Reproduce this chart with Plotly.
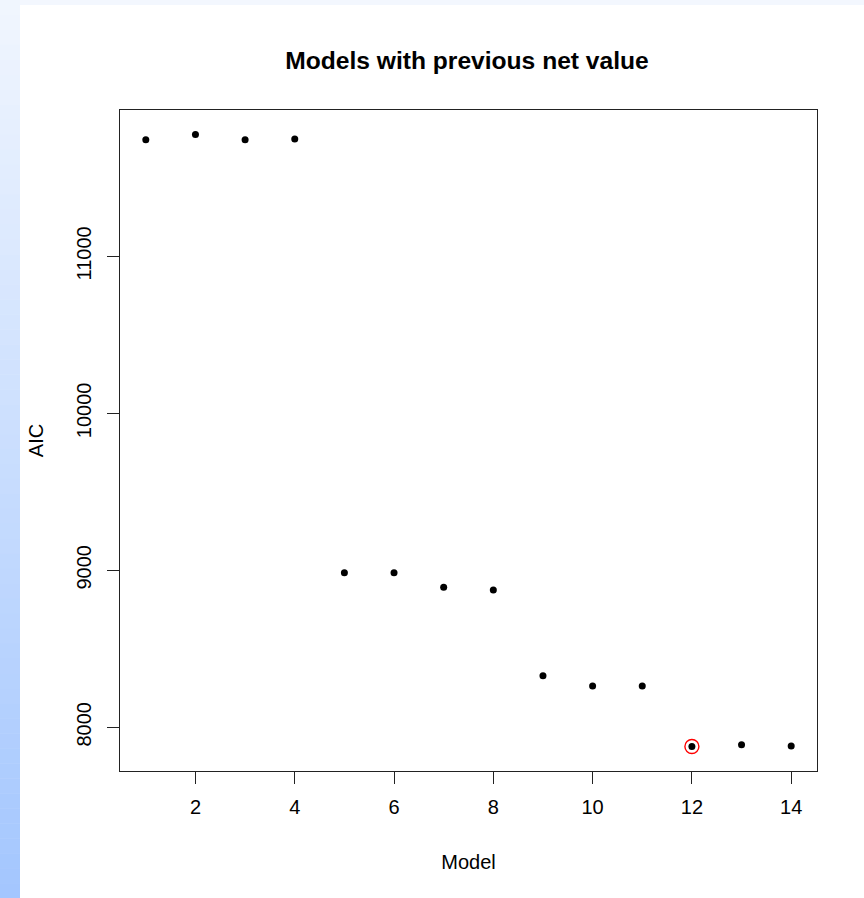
import plotly.graph_objects as go

# ---- data ----
models = [1, 2, 3, 4, 5, 6, 7, 8, 9, 10, 11, 12, 13, 14]
aic = [11742, 11776, 11742, 11748, 8985, 8985, 8893, 8875, 8328, 8263, 8263, 7878, 7890, 7882]
x_ticks = [2, 4, 6, 8, 10, 12, 14]
y_ticks = [8000, 9000, 10000, 11000]
title_text = "Models with previous net value"
x_title = "Model"
y_title = "AIC"

W, H = 864, 898
L, R, T, B = 120, 47, 110, 127
pw, ph = W - L - R, H - T - B

def px2x(px):
    return (px - L) / pw

def py2y(py):
    return (H - B - py) / ph

best = aic.index(min(aic))

# R style 4% axis padding
xr = [min(models) - 0.04 * (max(models) - min(models)), max(models) + 0.04 * (max(models) - min(models))]
yr = [min(aic) - 0.04 * (max(aic) - min(aic)), max(aic) + 0.04 * (max(aic) - min(aic))]

fig = go.Figure()
fig.add_trace(go.Scatter(x=models, y=aic, mode="markers",
                         marker=dict(color="black", size=7, line=dict(width=0)),
                         hoverinfo="skip", showlegend=False))
fig.add_trace(go.Scatter(x=[models[best]], y=[aic[best]], mode="markers",
                         marker=dict(symbol="circle-open", color="red", size=14, line=dict(width=1.4, color="red")),
                         hoverinfo="skip", showlegend=False))

shapes = []
# top light strip
shapes.append(dict(type="rect", xref="paper", yref="paper", x0=px2x(0), x1=px2x(W), y0=py2y(5), y1=py2y(0),
                   fillcolor="#f3f7fe", line=dict(width=0), layer="below"))
# left gradient strip
n = 60
c0 = (241, 246, 254)
c1 = (163, 198, 254)
for i in range(n):
    t = (i + 0.5) / n
    c = tuple(round(c0[k] + (c1[k] - c0[k]) * t) for k in range(3))
    y0p = H * i / n
    y1p = H * (i + 1) / n
    shapes.append(dict(type="rect", xref="paper", yref="paper", x0=px2x(0), x1=px2x(20),
                       y0=py2y(y1p + 0.5), y1=py2y(y0p),
                       fillcolor="rgb(%d,%d,%d)" % c, line=dict(width=0), layer="below"))

font_family = "Liberation Sans, Arial, sans-serif"

fig.update_layout(
    width=W, height=H,
    margin=dict(l=L, r=R, t=T, b=B, autoexpand=False),
    paper_bgcolor="white", plot_bgcolor="white",
    shapes=shapes,
    title=dict(text="<b>" + title_text + "</b>", x=px2x(467), xref="paper", xanchor="center",
               y=1 - 60 / H, yanchor="middle",
               font=dict(family=font_family, size=24.6, color="black")),
    xaxis=dict(range=xr, tickmode="array", tickvals=x_ticks, ticktext=[str(v) for v in x_ticks],
               showgrid=False, zeroline=False, showline=True, mirror=True, linecolor="#222222", linewidth=1,
               ticks="outside", ticklen=12, tickcolor="#222222", tickwidth=1,
               ticklabelstandoff=6,
               tickfont=dict(family=font_family, size=20, color="black"),
               title=dict(text=x_title, standoff=37, font=dict(family=font_family, size=20, color="black"))),
    yaxis=dict(range=yr, tickmode="array", tickvals=y_ticks, ticktext=[str(v) for v in y_ticks],
               showgrid=False, zeroline=False, showline=True, mirror=True, linecolor="#222222", linewidth=1,
               ticks="outside", ticklen=12, tickcolor="#222222", tickwidth=1, tickangle=-90,
               ticklabelstandoff=8,
               tickfont=dict(family=font_family, size=20, color="black"),
               title=dict(text=y_title, standoff=24, font=dict(family=font_family, size=20, color="black"))),
    hovermode=False,
)

fig.write_html("out.html", config={"displayModeBar": False},
               post_script="document.body.style.margin='0';document.body.style.padding='0';")
